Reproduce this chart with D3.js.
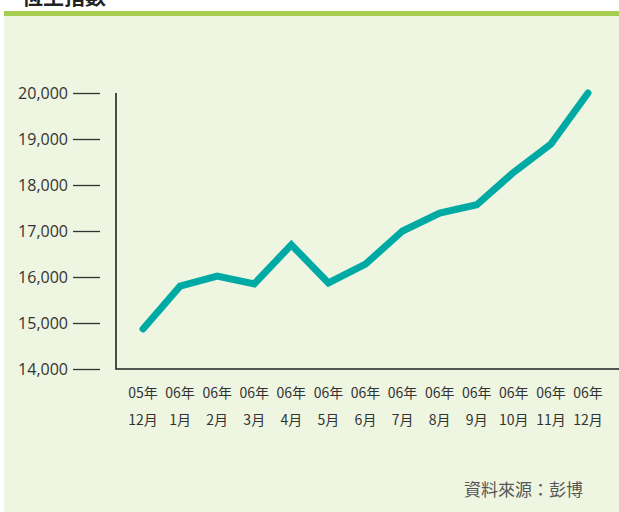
<!DOCTYPE html>
<html>
<head>
<meta charset="utf-8">
<script src="https://cdn.jsdelivr.net/npm/d3@7"></script>
<style>
body { margin: 0; background: #fff; }
text { font-family: "Open Sans", "Noto Sans CJK TC", sans-serif; }
</style>
</head>
<body>
<div id="chart"></div>
<script>
var w = 619;
var h = 512;

var years = ["05年", "06年", "06年", "06年", "06年", "06年", "06年", "06年", "06年", "06年", "06年", "06年", "06年"];
var months = ["12月", "1月", "2月", "3月", "4月", "5月", "6月", "7月", "8月", "9月", "10月", "11月", "12月"];
var hsi = [14870, 15800, 16020, 15850, 16700, 15870, 16280, 17000, 17390, 17570, 18280, 18890, 20000];
var yTicks = [14000, 15000, 16000, 17000, 18000, 19000, 20000];

var svg = d3.select("#chart")
	.append("svg")
	.attr("width", w)
	.attr("height", h);

// background panel
svg.append("rect")
	.attr("x", 4).attr("y", 16)
	.attr("width", w - 4).attr("height", h - 16)
	.attr("fill", "#eef5e1");

svg.append("rect")
	.attr("x", 4).attr("y", 11)
	.attr("width", w - 4).attr("height", 5)
	.attr("fill", "#a6cc50");

// title, cut off at the top like the reference
svg.append("text")
	.attr("x", 22)
	.attr("y", 4)
	.style("font-size", "21px")
	.style("font-weight", "bold")
	.style("font-family", "Noto Sans CJK TC")
	.attr("fill", "#222")
	.text("恆生指數");

var idx = d3.range(hsi.length);

var xScale = d3.scalePoint()
	.domain(idx)
	.range([143, 588]);

var yScale = d3.scaleLinear()
	.domain([14000, 20000])
	.range([369, 93]);

// y tick marks and labels
var yAxis = d3.axisLeft(yScale)
	.tickValues(yTicks)
	.tickSize(27)
	.tickPadding(5)
	.tickFormat(d3.format(","));

var gy = svg.append("g")
	.attr("transform", "translate(100,0)")
	.call(yAxis);
gy.select(".domain").remove();
gy.selectAll(".tick line").attr("stroke", "#333").attr("stroke-width", 1.3);
gy.selectAll(".tick text")
	.attr("fill", "#333")
	.style("font-size", "16px")
	.style("font-family", "Open Sans");

// axis frame
svg.append("path")
	.attr("d", "M116," + yScale(20000) + "V" + yScale(14000) + "H" + w)
	.attr("fill", "none")
	.attr("stroke", "#222")
	.attr("stroke-width", 1.6);

// x labels
var xl = svg.append("g").selectAll("g")
	.data(idx)
	.enter()
	.append("text")
	.attr("text-anchor", "middle")
	.attr("fill", "#333")
	.style("font-size", "14px")
	.style("font-family", "Noto Sans CJK TC");

xl.append("tspan")
	.attr("x", function(d) { return xScale(d); })
	.attr("y", 398)
	.text(function(d) { return years[d]; });

xl.append("tspan")
	.attr("x", function(d) { return xScale(d); })
	.attr("y", 425)
	.text(function(d) { return months[d]; });

var line = d3.line()
	.x(function(d) { return xScale(d); })
	.y(function(d) { return yScale(hsi[d]); });

svg.append("path")
	.datum(idx)
	.attr("d", line)
	.attr("fill", "none")
	.attr("stroke", "#00aaa4")
	.attr("stroke-width", 7)
	.attr("stroke-linecap", "round")
	.attr("stroke-linejoin", "miter");

svg.append("text")
	.attr("x", 583)
	.attr("y", 496)
	.attr("text-anchor", "end")
	.attr("fill", "#555")
	.style("font-size", "17px")
	.style("font-family", "Noto Sans CJK TC")
	.text("資料來源：彭博");
</script>
</body>
</html>
